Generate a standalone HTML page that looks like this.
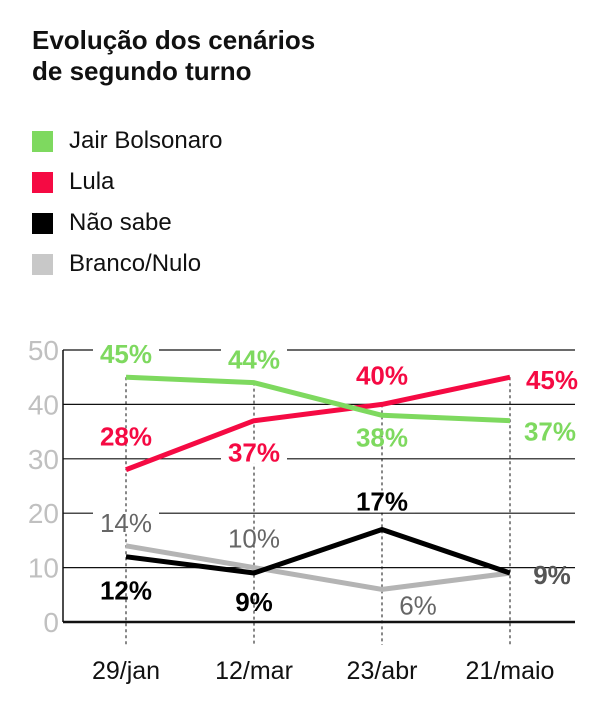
<!DOCTYPE html>
<html><head><meta charset="utf-8"><style>
body{margin:0;background:#fff;width:606px;height:712px;overflow:hidden;font-family:"Liberation Sans",sans-serif}
.t{position:absolute;left:32px;top:25px;font-size:26px;font-weight:bold;line-height:31px;color:#111}
.leg{position:absolute;left:32px;font-size:24px;color:#111;display:flex;align-items:center}
.leg span{display:inline-block;width:21px;height:21px;margin-right:16px}
</style></head><body>
<div class="t">Evolução dos cenários<br>de segundo turno</div>
<div class="leg" style="top:127px"><span style="background:#7ed95f"></span>Jair Bolsonaro</div>
<div class="leg" style="top:168px"><span style="background:#f50a43"></span>Lula</div>
<div class="leg" style="top:209px"><span style="background:#000"></span>Não sabe</div>
<div class="leg" style="top:250px"><span style="background:#c8c8c8"></span>Branco/Nulo</div>
<svg id="c" width="606" height="712" style="position:absolute;left:0;top:0"></svg>
<script>
const categories=["29/jan","12/mar","23/abr","21/maio"];
const bolsonaro=[45,44,38,37];
const lula=[28,37,40,45];
const naoSabe=[12,9,17,9];
const brancoNulo=[14,10,6,9];
const yTicks=[0,10,20,30,40,50];
const svg=document.getElementById('c');
const NS='http://www.w3.org/2000/svg';
const X=i=>126+i*128;
const Y=v=>622-v*5.44;
function mk(t,a,txt){const e=document.createElementNS(NS,t);for(const k in a)e.setAttribute(k,a[k]);if(txt!==undefined)e.textContent=txt;svg.appendChild(e);return e;}
yTicks.forEach(v=>{
  const g=mk('line',{x1:63,x2:575,y1:Y(v),y2:Y(v),stroke:'#111','stroke-width':v===0?2.5:1.2});
  
  
  const t=mk('text',{x:59,y:Y(v)+10,'text-anchor':'end','font-size':28,fill:'#c0c0c0'},v);
  
  
});
mk('line',{x1:63,x2:63,y1:Y(50),y2:Y(0),stroke:'#111','stroke-width':1.5});
categories.forEach((c,i)=>{
  const l=mk('line',{x1:X(i),x2:X(i),y1:Y(Math.max(bolsonaro[i],lula[i])),y2:645,stroke:'#111','stroke-width':1,'stroke-dasharray':'3,3'});
  
  
  const t=mk('text',{x:X(i),y:679,'text-anchor':'middle','font-size':25,fill:'#111'},c);
  
  
});
function series(arr,col,name){
  const p=mk('polyline',{points:arr.map((v,i)=>X(i)+','+Y(v)).join(' '),fill:'none',stroke:col,'stroke-width':5,'stroke-linejoin':'round'});
  
  
}
series(brancoNulo,'#b4b4b4','branco-nulo');
series(naoSabe,'#000','nao-sabe');
series(lula,'#f50a43','lula');
series(bolsonaro,'#7ed95f','bolsonaro');
function label(v,i,dx,dy,col,name,w,bg){
  const x=X(i)+dx,y=Y(v)+dy;
  if(bg) mk('rect',{x:x-33,y:y-20,width:66,height:22,fill:'#fff'});
  const t=mk('text',{x:x,y:y,'text-anchor':'middle','font-size':26,'font-weight':w,fill:col},v+'%');
  
  
}
const bOff=[[0,-14],[0,-14],[0,31],[40,20]];
const lOff=[[0,-24],[0,41],[0,-20],[42,12]];
const nOff=[[0,43],[0,38],[0,-19],[42,11]];
const gOff=[[0,-14],[0,-20],[36,25],[0,0]];
const bBg=[1,1,0,0],lBg=[0,1,0,0],nBg=[0,0,1,0],gBg=[1,0,0,0];
bolsonaro.forEach((v,i)=>label(v,i,bOff[i][0],bOff[i][1],'#7ed95f','bolsonaro','bold',bBg[i]));
lula.forEach((v,i)=>label(v,i,lOff[i][0],lOff[i][1],'#f50a43','lula','bold',lBg[i]));
naoSabe.forEach((v,i)=>label(v,i,nOff[i][0],nOff[i][1],i<3?'#000':'#555','nao-sabe','bold',nBg[i]));
brancoNulo.forEach((v,i)=>{ if(i<3) label(v,i,gOff[i][0],gOff[i][1],'#666','branco-nulo','normal',gBg[i]);});
</script>
</body></html>
